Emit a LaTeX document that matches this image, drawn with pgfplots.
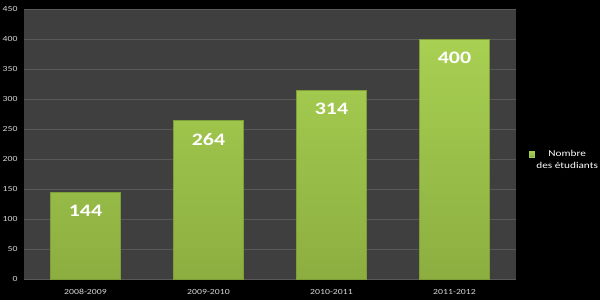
\documentclass[border=0pt]{standalone}
\usepackage{pgfplots}
\pgfplotsset{compat=1.18}
\usepackage{fontspec}
\setmainfont{Carlito}[FakeStretch=1.25]
\definecolor{plotbg}{HTML}{3F3F3F}
\definecolor{gridc}{HTML}{595959}
\definecolor{ticklab}{HTML}{D8D8D8}
\definecolor{bartop}{HTML}{A8D052}
\definecolor{barbot}{HTML}{8CAE40}
\definecolor{bardark}{HTML}{7F9E38}
\definecolor{legsq}{HTML}{A4CC4E}
\begin{document}
\begin{tikzpicture}[x=1pt,y=1pt]
\fill[black] (0,0) rectangle (600,300);
\begin{axis}[
  at={(24pt,21pt)}, anchor=south west,
  scale only axis, width=492pt, height=270pt,
  xmin=-0.5, xmax=3.5, ymin=0, ymax=450,
  ytick={0,50,...,450},
  xtick=data, xticklabels={2008-2009,2009-2010,2010-2011,2011-2012},
  axis line style={draw=none}, major tick length=0pt,
  ymajorgrids, grid style={color=gridc, line width=1pt},
  axis background/.style={fill=plotbg},
  tick label style={font=\fontsize{7.8}{9}\selectfont, color=ticklab},
  /pgf/number format/assume math mode=true,
  yticklabel style={xshift=-3pt},
  xticklabel style={yshift=-7pt},
  nodes near coords,
  every node near coord/.append style={anchor=north, yshift=-9pt,
     font=\fontsize{17.5}{20}\selectfont\bfseries, color=white},
  legend style={at={(1.02,0.44)}, anchor=west, fill=none, draw=none,
     text=white, font=\fontsize{9}{12}\selectfont, cells={align=center}},
  legend image code/.code={\fill[legsq] (0pt,3.5pt) rectangle (5pt,8.5pt);},
]
\addplot[ybar, bar width=70pt, draw=bardark, top color=bartop, bottom color=barbot]
  coordinates {(0,144) (1,264) (2,314) (3,400)};
\legend{{Nombre\\des étudiants}}
\end{axis}
\pgfresetboundingbox
\useasboundingbox (0,0) rectangle (600,300);
\end{tikzpicture}
\end{document}
